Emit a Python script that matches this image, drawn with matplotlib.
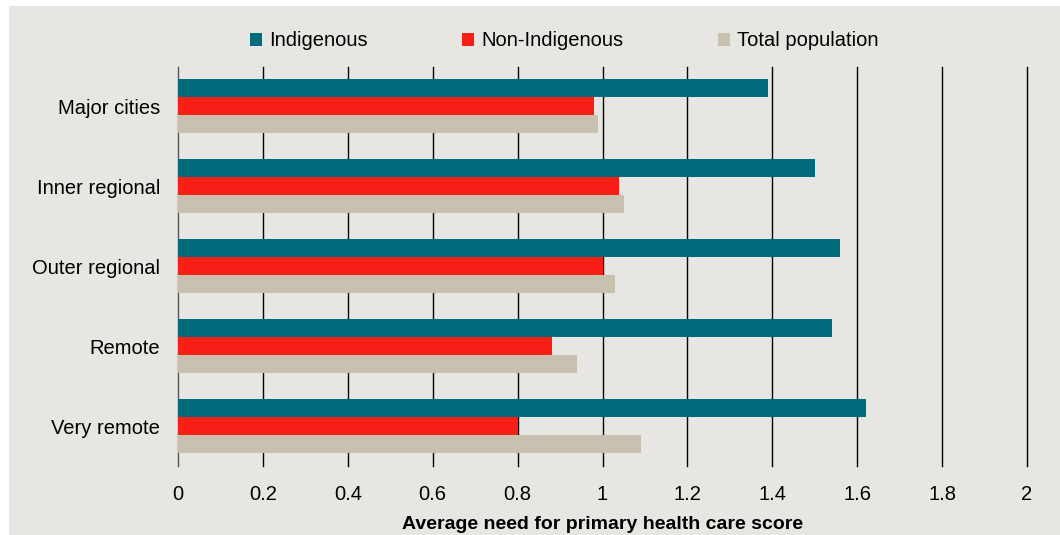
import numpy as np
import matplotlib
matplotlib.use("Agg")
from matplotlib import pyplot as plt
from matplotlib.patches import Patch, Rectangle

# data
regions = ["Major cities", "Inner regional", "Outer regional", "Remote", "Very remote"]
indigenous = [1.39, 1.50, 1.56, 1.54, 1.62]
non_indigenous = [0.98, 1.04, 1.00, 0.88, 0.80]
total_pop = [0.99, 1.05, 1.03, 0.94, 1.09]
series_names = ["Indigenous", "Non-Indigenous", "Total population"]
xticks = [0, 0.2, 0.4, 0.6, 0.8, 1, 1.2, 1.4, 1.6, 1.8, 2]
xtick_labels = ["0", "0.2", "0.4", "0.6", "0.8", "1", "1.2", "1.4", "1.6", "1.8", "2"]

c_teal = "#006B7A"
c_red = "#F71F16"
c_tan = "#C8C1AF"
bg = "#E8E6E2"

plt.rcParams['font.family'] = ['Liberation Sans Narrow', 'Liberation Sans', 'DejaVu Sans']

fig = plt.figure(figsize=(10.6, 5.35), dpi=100)
fig.patch.set_facecolor("white")
# grey panel behind everything
fig.patches.append(Rectangle((9 / 1060, 0), 1 - 9 / 1060, 1 - 6 / 535,
                             transform=fig.transFigure, facecolor=bg,
                             edgecolor="none", zorder=-10))

ax = fig.add_axes([0.1679, 0.1290, 0.8010, 0.7458])
ax.set_facecolor("none")

y = np.arange(len(regions))
h = 0.225
ax.barh(y - h, indigenous, height=h, color=c_teal, zorder=3)
ax.barh(y, non_indigenous, height=h, color=c_red, zorder=3)
ax.barh(y + h, total_pop, height=h, color=c_tan, zorder=3)

ax.set_ylim(4.5, -0.49)
ax.set_xlim(0, 2)
ax.set_yticks(y)
ax.set_yticklabels(regions, fontsize=14.5)
ax.set_xticks(xticks)
ax.set_xticklabels(xtick_labels, fontsize=14.5)
ax.tick_params(length=0, pad=14)
ax.tick_params(axis='y', pad=13)

for xv in xticks:
    ax.axvline(xv, color="#555555" if xv == 0 else "black", lw=1.0,
               zorder=1, clip_on=False)
for s in ax.spines.values():
    s.set_visible(False)

ax.set_xlabel("Average need for primary health care score", fontsize=14,
              fontweight="bold", labelpad=8)

handles = [Patch(facecolor=c, edgecolor="none") for c in (c_teal, c_red, c_tan)]
fig.legend(handles, series_names, loc="center", bbox_to_anchor=(564 / 1060, 1 - 41 / 535),
           ncol=3, frameon=False, fontsize=14.5, handlelength=0.6, handleheight=0.6,
           handletextpad=0.35, columnspacing=4.7)

plt.savefig("out.png", dpi=100, facecolor=fig.get_facecolor())
